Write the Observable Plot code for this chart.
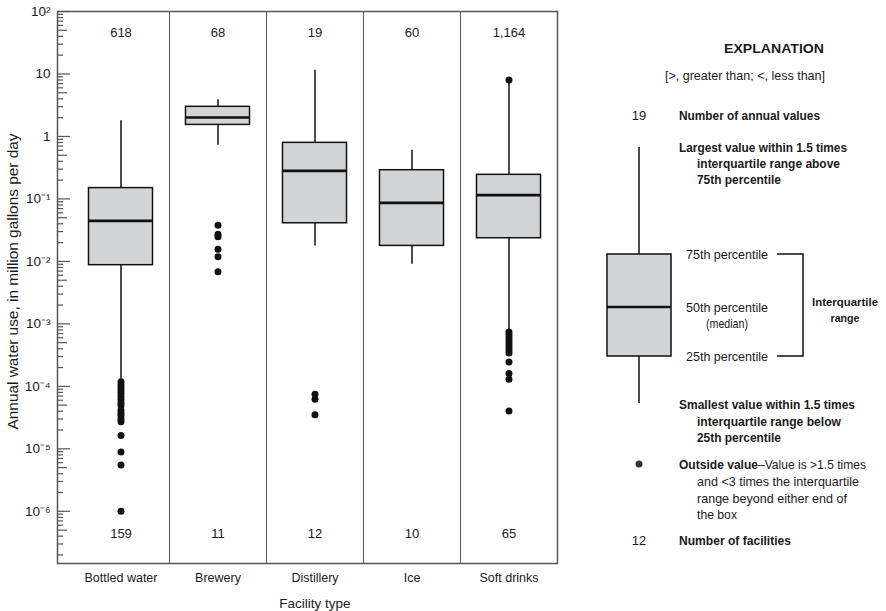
<!DOCTYPE html>
<html>
<head>
<meta charset="utf-8">
<script src="https://cdn.jsdelivr.net/npm/d3@7"></script>
<script src="https://cdn.jsdelivr.net/npm/@observablehq/plot@0.6"></script>
<style>
  body { margin: 0; background: white; }
  #wrap { position: relative; width: 886px; height: 611px; }
  #wrap svg { position: absolute; left: 0; top: 0; }
</style>
</head>
<body>
<div id="wrap"></div>
<script>
// ---- data ----
const categories = ["Bottled water", "Brewery", "Distillery", "Ice", "Soft drinks"];
const annualValues = [618, 68, 19, 60, 1164];
const facilities = [159, 11, 12, 10, 65];
const whiskerLow = [1.3e-4, 0.726, 0.0177, 0.0090, 8.0e-4];
const q1 = [0.0087, 1.53, 0.0408, 0.0177, 0.0235];
const median = [0.0445, 2.01, 0.281, 0.0865, 0.115];
const q3 = [0.149, 2.98, 0.79, 0.288, 0.243];
const whiskerHigh = [1.78, 3.85, 11.5, 0.60, 7.8];
const outliersBottled = [1.18e-4, 1.05e-4, 9.4e-5, 8.4e-5, 7.6e-5, 6.8e-5, 6.1e-5, 5.4e-5, 4.9e-5, 4.2e-5, 3.75e-5, 3.4e-5, 3.0e-5, 2.7e-5, 1.63e-5, 8.9e-6, 5.5e-6, 1.0e-6];
const outliersBrewery = [0.038, 0.0272, 0.0247, 0.0157, 0.0119, 0.0068];
const outliersDistillery = [7.5e-5, 6.2e-5, 3.5e-5];
const outliersIce = [];
const outliersSoft = [8.0, 7.4e-4, 6.65e-4, 5.96e-4, 5.33e-4, 4.78e-4, 4.28e-4, 3.83e-4, 3.43e-4, 2.46e-4, 1.6e-4, 1.3e-4, 4.04e-5];
const majorTicks = [1e-6, 1e-5, 1e-4, 1e-3, 1e-2, 1e-1, 1, 10, 100];
const yLabel = "Annual water use, in million gallons per day";
const xLabel = "Facility type";

// ---- derived tables ----
const stats = categories.map((c, i) => ({
  i, c, n: annualValues[i], f: facilities[i],
  lo: whiskerLow[i], q1: q1[i], med: median[i], q3: q3[i], hi: whiskerHigh[i]
}));
const outlierLists = [outliersBottled, outliersBrewery, outliersDistillery, outliersIce, outliersSoft];
const outliers = outlierLists.flatMap((arr, i) => arr.map(v => ({i, v})));
const yDomain = [1.46e-7, 100];
const minorAll = [];
for (let e = -7; e <= 1; e++) for (let m = 2; m <= 9; m++) {
  const v = m * Math.pow(10, e);
  if (v >= yDomain[0] && v <= yDomain[1]) minorAll.push(v);
}
const minorFive = minorAll.filter(v => Math.abs(v / Math.pow(10, Math.floor(Math.log10(v) + 1e-9)) - 5) < 1e-6);
const minorOther = minorAll.filter(v => !minorFive.includes(v));

const supMap = {"-": "\u207B", "0": "\u2070", "1": "\u00B9", "2": "\u00B2", "3": "\u00B3", "4": "\u2074", "5": "\u2075", "6": "\u2076", "7": "\u2077", "8": "\u2078", "9": "\u2079"};
const fmtY = v => {
  const e = Math.round(Math.log10(v));
  if (e === 0) return "1";
  if (e === 1) return "10";
  return "10" + String(e).split("").map(ch => supMap[ch]).join("");
};

const FONT = "'Liberation Sans', Arial, sans-serif";
const boxHalf = 0.33;
const ink = "#111";
const gridGray = "#555";

const chart = Plot.plot({
  width: 886,
  height: 611,
  marginLeft: 57,
  marginRight: 329,
  marginTop: 11,
  marginBottom: 48,
  style: {fontFamily: FONT, fontSize: "12.5px", color: "#1a1a1a", background: "white"},
  x: {type: "linear", domain: [-0.6546, 4.5]},
  y: {type: "log", domain: yDomain},
  marks: [
    Plot.ruleX(d3.range(1, categories.length), {x: i => i - 0.5, stroke: gridGray, strokeWidth: 1}),
    Plot.axisY({ticks: majorTicks, tickSize: -13, tickFormat: () => "", stroke: gridGray, strokeWidth: 1.2, label: null}),
    Plot.axisY({ticks: minorFive, tickSize: -10, tickFormat: () => "", stroke: gridGray, strokeWidth: 1.2, label: null}),
    Plot.axisY({ticks: minorOther, tickSize: -6, tickFormat: () => "", stroke: gridGray, strokeWidth: 1.2, label: null}),
    Plot.axisY({ticks: majorTicks, tickSize: 0, tickPadding: 7, tickFormat: fmtY, fontSize: 13.5, label: null}),
    Plot.axisX({ticks: d3.range(categories.length), tickSize: 0, tickPadding: 10, tickFormat: i => categories[i], fontSize: 12.5, label: null}),
    Plot.text([yLabel], {frameAnchor: "left", dx: -44, dy: -6, rotate: -90, fontSize: 14, lineAnchor: "middle", textAnchor: "middle", className: "ylab"}),
    Plot.text([xLabel], {x: 2, frameAnchor: "bottom", dy: 40, fontSize: 13.5, lineAnchor: "middle"}),
    Plot.ruleX(stats, {x: "i", y1: "lo", y2: "q1", stroke: ink, strokeWidth: 1.5}),
    Plot.ruleX(stats, {x: "i", y1: "q3", y2: "hi", stroke: ink, strokeWidth: 1.5}),
    Plot.rect(stats, {x1: d => d.i - boxHalf, x2: d => d.i + boxHalf, y1: "q1", y2: "q3", fill: "#d3d4d6", stroke: ink, strokeWidth: 1.5}),
    Plot.ruleY(stats, {y: "med", x1: d => d.i - boxHalf, x2: d => d.i + boxHalf, stroke: ink, strokeWidth: 2.6}),
    Plot.dot(outliers, {x: "i", y: "v", r: 3.5, fill: ink, stroke: null}),
    Plot.text(stats, {x: "i", text: d => d3.format(",")(d.n), frameAnchor: "top", dy: 21, lineAnchor: "middle", fontSize: 13}),
    Plot.text(stats, {x: "i", text: d => String(d.f), frameAnchor: "bottom", dy: -30, lineAnchor: "middle", fontSize: 13}),
    Plot.frame({stroke: gridGray, strokeWidth: 1.5})
  ]
});
document.getElementById("wrap").appendChild(chart);
// condense the long rotated axis title to the reference's length
d3.select(chart).selectAll(".ylab text").attr("textLength", 296).attr("lengthAdjust", "spacingAndGlyphs");

// ---- explanation (legend) ----
const lg = d3.select("#wrap").append("svg")
  .attr("width", 886).attr("height", 611)
  .attr("font-family", FONT).attr("font-size", 13).attr("fill", "#1a1a1a");
function txt(x, y, parts, anchor = "start", width = null, size = null) {
  const t = lg.append("text").attr("x", x).attr("y", y).attr("dy", "0.35em").attr("text-anchor", anchor);
  if (size) t.attr("font-size", size);
  if (width) t.attr("textLength", width).attr("lengthAdjust", "spacingAndGlyphs");
  (Array.isArray(parts) ? parts : [[parts, false]]).forEach(([s, b]) => {
    t.append("tspan").attr("font-weight", b ? "bold" : "normal").text(s);
  });
}
const B = s => [[s, true]];
txt(774, 48, B("EXPLANATION"), "middle", 100);
txt(745, 75, "[>, greater than; <, less than]", "middle", 160);
txt(639, 115, "19", "middle");
txt(679, 115, B("Number of annual values"), "start", 141);
txt(679, 147, B("Largest value within 1.5 times"), "start", 168);
txt(697, 163, B("interquartile range above"), "start", 143);
txt(697, 179, B("75th percentile"), "start", 84);
// legend box
lg.append("line").attr("x1", 639).attr("x2", 639).attr("y1", 147).attr("y2", 254).attr("stroke", ink).attr("stroke-width", 1.5);
lg.append("line").attr("x1", 639).attr("x2", 639).attr("y1", 356).attr("y2", 403).attr("stroke", ink).attr("stroke-width", 1.5);
lg.append("rect").attr("x", 607).attr("y", 254).attr("width", 64).attr("height", 102).attr("fill", "#d3d4d6").attr("stroke", ink).attr("stroke-width", 1.5);
lg.append("line").attr("x1", 607).attr("x2", 671).attr("y1", 307).attr("y2", 307).attr("stroke", ink).attr("stroke-width", 2.6);
txt(686, 254, "75th percentile", "start", 82);
txt(727, 307, "50th percentile", "middle", 82);
txt(727, 323, "(median)", "middle", 42);
txt(686, 356, "25th percentile", "start", 82);
lg.append("path").attr("d", "M777,254H803V356H777").attr("fill", "none").attr("stroke", ink).attr("stroke-width", 1.5);
txt(845, 302, B("Interquartile"), "middle", 66, 11.5);
txt(845, 318, B("range"), "middle", 29, 11.5);
txt(679, 404, B("Smallest value within 1.5 times"), "start", 176);
txt(697, 421, B("interquartile range below"), "start", 144);
txt(697, 437, B("25th percentile"), "start", 84);
lg.append("circle").attr("cx", 639).attr("cy", 464).attr("r", 3.5).attr("fill", "#333");
txt(679, 464, [["Outside value", true], ["\u2013Value is >1.5 times", false]], "start", 187);
txt(697, 481, "and <3 times the interquartile", "start", 162);
txt(697, 498, "range beyond either end of", "start", 150);
txt(697, 514, "the box", "start", 40);
txt(639, 540, "12", "middle");
txt(679, 540, B("Number of facilities"), "start", 112);
</script>
</body>
</html>
